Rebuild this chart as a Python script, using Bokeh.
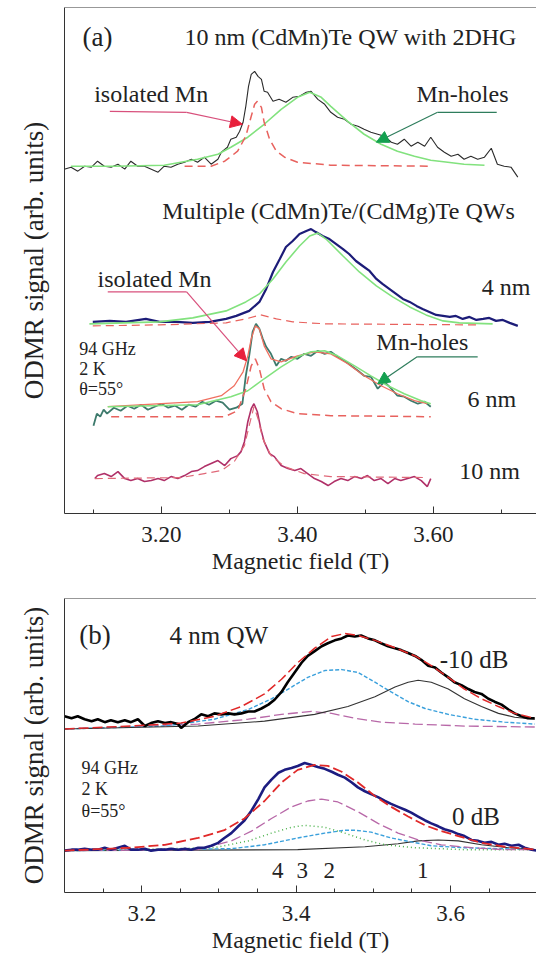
from bokeh.plotting import figure
from bokeh.models import Range1d, Span, Arrow, NormalHead, FixedTicker, NumeralTickFormatter
from bokeh.layouts import column
from bokeh.core.properties import value
from bokeh.embed import file_html
from bokeh.resources import INLINE

FONT = "Liberation Serif"

# ================= panel (a) data (field in T, signal in arb. units) =================
A_2DHG_FIELD = [3.057, 3.067, 3.077, 3.087, 3.097, 3.106, 3.116, 3.126, 3.136, 3.146, 3.155, 3.165, 3.175, 3.185,
                3.195, 3.204, 3.214, 3.224, 3.234, 3.244, 3.253, 3.263, 3.273, 3.283, 3.288, 3.297, 3.302, 3.310,
                3.315, 3.320, 3.324, 3.328, 3.332, 3.337, 3.342, 3.347, 3.351, 3.356, 3.364, 3.373, 3.383, 3.393,
                3.403, 3.413, 3.420, 3.430, 3.440, 3.449, 3.459, 3.469, 3.479, 3.489, 3.498, 3.508, 3.518, 3.528,
                3.538, 3.547, 3.557, 3.567, 3.577, 3.587, 3.596, 3.606, 3.616, 3.626, 3.636, 3.645, 3.655, 3.665,
                3.675, 3.685, 3.694, 3.704, 3.714, 3.724]
A_2DHG_SIGNAL = [345, 347, 343, 348, 347, 353, 348, 347, 350, 345, 353, 348, 348, 345, 342, 348, 347, 350, 352, 355,
                 352, 357, 350, 355, 362, 367, 375, 377, 383, 392, 408, 428, 440, 443, 438, 435, 423, 422, 413, 415,
                 412, 417, 418, 422, 423, 415, 410, 402, 397, 395, 390, 388, 385, 382, 380, 378, 372, 370, 375, 368,
                 372, 368, 377, 367, 362, 358, 360, 355, 358, 355, 357, 366, 350, 348, 347, 337]
A_2DHG_HOLES_FIELD = [3.067, 3.131, 3.204, 3.253, 3.283, 3.302, 3.327, 3.351, 3.376, 3.400, 3.418, 3.435, 3.449,
                      3.474, 3.498, 3.523, 3.547, 3.572, 3.596, 3.621, 3.645, 3.675]
A_2DHG_HOLES_SIGNAL = [348, 348, 349, 355, 360, 367, 377, 390, 405, 417, 422, 417, 408, 393, 380, 370, 363, 358,
                       354, 352, 350, 349]
A_2DHG_MN_FIELD = [3.234, 3.273, 3.293, 3.312, 3.324, 3.332, 3.337, 3.341, 3.347, 3.351, 3.359, 3.369, 3.381, 3.400,
                   3.449, 3.596]
A_2DHG_MN_SIGNAL = [348, 348, 353, 363, 378, 398, 410, 413, 407, 392, 375, 363, 357, 352, 349, 348]

A_4NM_FIELD = [3.099, 3.124, 3.148, 3.177, 3.197, 3.222, 3.246, 3.271, 3.295, 3.310, 3.329, 3.344, 3.354, 3.364,
               3.374, 3.383, 3.393, 3.403, 3.413, 3.420, 3.427, 3.437, 3.447, 3.457, 3.467, 3.476, 3.486, 3.496,
               3.506, 3.516, 3.525, 3.535, 3.545, 3.555, 3.565, 3.575, 3.584, 3.594, 3.604, 3.614, 3.624, 3.633,
               3.643, 3.653, 3.663, 3.673, 3.682, 3.692, 3.702, 3.712, 3.724]
A_4NM_SIGNAL = [192, 193, 192, 195, 192, 192, 191, 192, 195, 198, 203, 212, 225, 242, 255, 267, 273, 280, 283, 285,
                282, 278, 275, 270, 265, 260, 253, 248, 243, 235, 230, 225, 220, 215, 212, 208, 205, 202, 199, 198,
                197, 198, 195, 197, 194, 195, 196, 193, 194, 191, 188]
A_4NM_HOLES_FIELD = [3.094, 3.197, 3.246, 3.295, 3.324, 3.344, 3.364, 3.383, 3.403, 3.418, 3.430, 3.442, 3.467,
                     3.491, 3.516, 3.540, 3.565, 3.589, 3.614, 3.638, 3.687]
A_4NM_HOLES_SIGNAL = [190, 192, 196, 203, 212, 220, 235, 252, 268, 278, 281, 275, 258, 242, 228, 217, 207, 199, 193,
                      191, 190]
A_4NM_MN_FIELD = [3.099, 3.197, 3.295, 3.324, 3.346, 3.369, 3.393, 3.442, 3.663]
A_4NM_MN_SIGNAL = [188, 189, 191, 195, 199, 195, 192, 190, 189]

A_6NM_FIELD = [3.100, 3.105, 3.110, 3.115, 3.120, 3.130, 3.140, 3.150, 3.160, 3.170, 3.180, 3.190, 3.200, 3.210,
               3.220, 3.230, 3.240, 3.250, 3.260, 3.270, 3.280, 3.290, 3.300, 3.310, 3.319, 3.324, 3.329, 3.334,
               3.339, 3.344, 3.349, 3.354, 3.361, 3.369, 3.376, 3.383, 3.391, 3.400, 3.410, 3.420, 3.430, 3.440,
               3.449, 3.459, 3.469, 3.479, 3.489, 3.498, 3.508, 3.518, 3.528, 3.538, 3.547, 3.557, 3.567, 3.577,
               3.587, 3.596]
A_6NM_SIGNAL = [88, 100, 97, 104, 100, 106, 103, 108, 105, 109, 104, 107, 110, 106, 108, 104, 109, 107, 112, 109,
                113, 111, 104, 106, 110, 138, 158, 182, 190, 185, 175, 167, 160, 148, 155, 153, 157, 155, 160, 158,
                163, 160, 162, 157, 153, 148, 143, 138, 137, 125, 132, 125, 118, 117, 113, 110, 112, 107]
A_6NM_TOTAL_FIELD = [3.121, 3.253, 3.288, 3.307, 3.320, 3.327, 3.332, 3.338, 3.344, 3.351, 3.361, 3.376, 3.400,
                     3.425, 3.449, 3.474, 3.498, 3.523, 3.547, 3.572, 3.591]
A_6NM_TOTAL_SIGNAL = [107, 112, 118, 128, 142, 158, 175, 188, 185, 168, 155, 152, 158, 162, 160, 150, 138, 128, 120,
                      113, 110]
A_6NM_HOLES_FIELD = [3.121, 3.253, 3.302, 3.327, 3.351, 3.376, 3.400, 3.420, 3.440, 3.459, 3.484, 3.508, 3.533,
                     3.557, 3.582, 3.596]
A_6NM_HOLES_SIGNAL = [107, 109, 117, 123, 135, 147, 157, 162, 163, 158, 148, 138, 128, 120, 113, 110]
A_6NM_MN_FIELD = [3.126, 3.293, 3.312, 3.324, 3.332, 3.338, 3.344, 3.351, 3.361, 3.376, 3.400, 3.449, 3.596]
A_6NM_MN_SIGNAL = [97, 97, 103, 125, 148, 155, 145, 125, 112, 105, 100, 98, 97]

A_10NM_FIELD = [3.102, 3.106, 3.116, 3.126, 3.136, 3.146, 3.155, 3.165, 3.175, 3.185, 3.195, 3.204, 3.214, 3.224,
                3.234, 3.244, 3.253, 3.263, 3.273, 3.283, 3.293, 3.302, 3.312, 3.317, 3.322, 3.327, 3.332, 3.336,
                3.341, 3.346, 3.351, 3.359, 3.366, 3.376, 3.386, 3.396, 3.405, 3.415, 3.425, 3.435, 3.445, 3.454,
                3.464, 3.474, 3.484, 3.494, 3.503, 3.513, 3.523, 3.533, 3.543, 3.552, 3.562, 3.572, 3.582, 3.591,
                3.596]
A_10NM_SIGNAL = [35, 38, 40, 37, 42, 35, 33, 35, 32, 33, 35, 33, 37, 35, 38, 42, 43, 47, 50, 53, 48, 55, 58, 62, 72,
                 92, 105, 110, 102, 85, 72, 60, 57, 48, 45, 43, 45, 40, 35, 32, 28, 32, 35, 33, 37, 35, 38, 33, 35,
                 30, 35, 33, 35, 37, 33, 27, 35]
A_10NM_FIT_FIELD = [3.102, 3.229, 3.263, 3.288, 3.307, 3.322, 3.329, 3.336, 3.342, 3.349, 3.361, 3.381, 3.410,
                    3.449, 3.591]
A_10NM_FIT_SIGNAL = [35, 36, 40, 43, 52, 68, 88, 107, 95, 75, 58, 47, 40, 37, 36]

# ================= panel (b) data =================
B_M10_FIELD = [3.100, 3.109, 3.117, 3.126, 3.135, 3.143, 3.152, 3.160, 3.169, 3.178, 3.186, 3.195, 3.204, 3.212,
               3.221, 3.230, 3.238, 3.247, 3.251, 3.260, 3.268, 3.277, 3.286, 3.294, 3.303, 3.312, 3.320, 3.329,
               3.338, 3.346, 3.355, 3.364, 3.372, 3.381, 3.389, 3.398, 3.407, 3.415, 3.424, 3.433, 3.441, 3.450,
               3.459, 3.467, 3.476, 3.484, 3.493, 3.502, 3.510, 3.519, 3.528, 3.536, 3.545, 3.554, 3.562, 3.571,
               3.580, 3.588, 3.597, 3.605, 3.614, 3.623, 3.631, 3.640, 3.649, 3.657, 3.666, 3.675, 3.683, 3.692,
               3.700, 3.709]
B_M10_SIGNAL = [181, 179, 181, 178, 176, 178, 175, 177, 175, 177, 175, 178, 171, 174, 176, 174, 175, 173, 169, 175,
                178, 183, 181, 184, 183, 184, 183, 184, 186, 186, 189, 193, 198, 206, 216, 226, 236, 243, 248, 253,
                256, 259, 261, 264, 263, 264, 261, 259, 256, 253, 251, 249, 246, 243, 239, 233, 231, 226, 221, 216,
                213, 209, 206, 204, 199, 196, 193, 188, 184, 181, 179, 179]
B_M10_TOTAL_FIELD = [3.100, 3.186, 3.251, 3.294, 3.329, 3.359, 3.381, 3.402, 3.424, 3.446, 3.463, 3.480, 3.502,
                     3.523, 3.554, 3.575, 3.597, 3.618, 3.640, 3.662, 3.683, 3.709]
B_M10_TOTAL_SIGNAL = [168, 171, 174, 181, 191, 204, 219, 236, 251, 263, 266, 264, 259, 253, 243, 233, 221, 209, 199,
                      191, 184, 179]
B_M10_C1_FIELD = [3.100, 3.273, 3.359, 3.424, 3.467, 3.502, 3.528, 3.545, 3.558, 3.575, 3.597, 3.618, 3.640, 3.662,
                  3.683, 3.709]
B_M10_C1_SIGNAL = [168, 171, 176, 183, 191, 201, 211, 216, 218, 216, 209, 199, 191, 184, 180, 178]
B_M10_C2_FIELD = [3.100, 3.230, 3.294, 3.338, 3.368, 3.394, 3.415, 3.437, 3.459, 3.480, 3.502, 3.523, 3.545, 3.567,
                  3.597, 3.631, 3.670, 3.709]
B_M10_C2_SIGNAL = [168, 171, 178, 188, 199, 211, 221, 228, 229, 226, 216, 206, 196, 189, 183, 178, 175, 173]
B_M10_C3_FIELD = [3.100, 3.273, 3.338, 3.381, 3.420, 3.446, 3.476, 3.510, 3.554, 3.618, 3.709]
B_M10_C3_SIGNAL = [168, 173, 178, 183, 186, 184, 179, 175, 173, 171, 170]

B_0_FIELD = [3.100, 3.109, 3.117, 3.126, 3.135, 3.143, 3.152, 3.160, 3.169, 3.178, 3.186, 3.195, 3.204, 3.212,
             3.221, 3.230, 3.238, 3.247, 3.256, 3.264, 3.273, 3.281, 3.290, 3.299, 3.307, 3.316, 3.325, 3.333,
             3.342, 3.351, 3.359, 3.368, 3.377, 3.385, 3.394, 3.402, 3.411, 3.420, 3.428, 3.437, 3.446, 3.454,
             3.463, 3.472, 3.480, 3.489, 3.497, 3.506, 3.515, 3.523, 3.532, 3.541, 3.549, 3.558, 3.567, 3.575,
             3.584, 3.592, 3.601, 3.610, 3.618, 3.627, 3.636, 3.644, 3.653, 3.662, 3.670, 3.679, 3.688, 3.696,
             3.705, 3.712]
B_0_SIGNAL = [43, 44, 44, 45, 44, 44, 46, 44, 46, 48, 44, 44, 45, 43, 44, 44, 45, 44, 45, 44, 46, 46, 48, 51, 56,
              61, 68, 74, 84, 96, 108, 116, 123, 126, 128, 130, 133, 131, 129, 127, 124, 121, 118, 113, 108, 104,
              101, 98, 94, 91, 88, 85, 82, 78, 74, 71, 68, 65, 63, 60, 58, 54, 53, 51, 52, 49, 50, 48, 49, 46, 44,
              43]
B_0_TOTAL_FIELD = [3.100, 3.186, 3.230, 3.273, 3.307, 3.333, 3.359, 3.381, 3.402, 3.424, 3.441, 3.459, 3.480, 3.502,
                   3.523, 3.545, 3.567, 3.588, 3.610, 3.640, 3.670, 3.712]
B_0_TOTAL_SIGNAL = [43, 46, 49, 56, 64, 76, 94, 113, 126, 131, 130, 124, 113, 99, 88, 78, 69, 63, 58, 51, 47, 44]
B_0_C1_FIELD = [3.100, 3.402, 3.489, 3.532, 3.558, 3.584, 3.610, 3.640, 3.675, 3.712]
B_0_C1_SIGNAL = [43, 44, 47, 50, 53, 54, 53, 49, 46, 44]
B_0_C2_FIELD = [3.100, 3.316, 3.359, 3.402, 3.437, 3.463, 3.476, 3.497, 3.523, 3.549, 3.575, 3.618, 3.712]
B_0_C2_SIGNAL = [43, 45, 49, 56, 61, 64, 64, 62, 56, 52, 48, 46, 44]
B_0_C3_FIELD = [3.100, 3.273, 3.316, 3.342, 3.368, 3.394, 3.415, 3.433, 3.454, 3.480, 3.506, 3.532, 3.558, 3.588,
                3.627, 3.670, 3.712]
B_0_C3_SIGNAL = [43, 44, 53, 63, 76, 88, 94, 96, 93, 83, 71, 61, 54, 49, 46, 44, 44]
B_0_C4_FIELD = [3.100, 3.294, 3.338, 3.368, 3.394, 3.411, 3.437, 3.463, 3.489, 3.515, 3.554, 3.618, 3.712]
B_0_C4_SIGNAL = [43, 46, 53, 61, 67, 69, 67, 61, 54, 49, 46, 44, 44]

# ================= ticks and annotations =================
A_MAJOR_TICKS = [3.20, 3.40, 3.60]
A_MINOR_TICKS = [3.10, 3.30, 3.50, 3.70]
B_MAJOR_TICKS = [3.2, 3.4, 3.6]
B_MINOR_TICKS = [3.15, 3.25, 3.30, 3.35, 3.45, 3.50, 3.55, 3.65]

PEAK_LABELS = ["4", "3", "2", "1"]
PEAK_FIELDS = [3.376, 3.408, 3.443, 3.564]

# arrows: (start_field, start_signal, knee_field, knee_signal, tip_field, tip_signal)
A_ARROW_ISO_TOP = (3.124, 403, 3.237, 402, 3.319, 390)
A_ARROW_HOLES_TOP = (3.693, 402, 3.606, 402, 3.516, 372)
A_ARROW_ISO_MID = (3.121, 222, 3.237, 222, 3.325, 153)
A_ARROW_HOLES_MID = (3.665, 157, 3.576, 157, 3.518, 130)

TXT = "#222222"
RED_DASH = "#e8625e"
GREEN_FIT = "#82e27e"


def base_fig(height, xr, yr, top, bottom, major, minor, fmt):
    p = figure(width=536, height=height, output_backend="svg", toolbar_location=None,
               x_range=Range1d(*xr), y_range=Range1d(*yr),
               min_border_left=64, min_border_right=0, min_border_top=top, min_border_bottom=bottom)
    p.outline_line_color = None
    p.grid.visible = False
    p.background_fill_color = "white"
    p.border_fill_color = "white"
    xa = p.xaxis[0]
    xa.ticker = FixedTicker(ticks=major, minor_ticks=minor)
    xa.formatter = NumeralTickFormatter(format=fmt)
    xa.major_tick_in = 7
    xa.major_tick_out = 0
    xa.minor_tick_in = 4
    xa.minor_tick_out = 0
    xa.axis_line_color = "#333333"
    xa.major_tick_line_color = "#333333"
    xa.minor_tick_line_color = "#333333"
    xa.major_label_text_font = FONT
    xa.major_label_text_font_size = "23px"
    xa.major_label_text_color = TXT
    xa.major_label_standoff = 13
    xa.axis_label = "Magnetic field (T)"
    xa.axis_label_text_font = FONT
    xa.axis_label_text_font_size = "24px"
    xa.axis_label_text_font_style = "normal"
    xa.axis_label_text_color = TXT
    xa.axis_label_standoff = 3
    ya = p.yaxis[0]
    ya.ticker = FixedTicker(ticks=[])
    ya.axis_line_color = "#333333"
    ya.major_tick_line_color = None
    ya.minor_tick_line_color = None
    ya.axis_label = "ODMR signal (arb. units)"
    ya.axis_label_text_font = FONT
    ya.axis_label_text_font_size = "27px"
    ya.axis_label_text_font_style = "normal"
    ya.axis_label_text_color = TXT
    ya.axis_label_standoff = 16
    p.add_layout(Span(location=yr[1], dimension="width", line_color="#333333", line_width=1))
    return p


def txt(p, xs, ys, texts, size, align="left"):
    p.text(x=xs, y=ys, text=texts, text_font=value(FONT), text_font_size=size,
           text_color=TXT, text_align=align, text_baseline="middle")


def bent_arrow(p, spec, line_color, head_color):
    x0, y0, x1, y1, x2, y2 = spec
    p.line([x0, x1], [y0, y1], line_color=line_color, line_width=1.2)
    p.add_layout(Arrow(end=NormalHead(size=12, fill_color=head_color, line_color=head_color),
                       x_start=x1, y_start=y1, x_end=x2, y_end=y2,
                       line_color=line_color, line_width=1.2))


# ---------------- panel (a) ----------------
pa = base_fig(580, (3.0574, 3.7515), (0, 507), 7, 67, A_MAJOR_TICKS, A_MINOR_TICKS, "0.00")

pa.line(A_2DHG_FIELD, A_2DHG_SIGNAL, line_color="#2b2b2b", line_width=1.1)
pa.line(A_2DHG_HOLES_FIELD, A_2DHG_HOLES_SIGNAL, line_color=GREEN_FIT, line_width=1.6)
pa.line(A_2DHG_MN_FIELD, A_2DHG_MN_SIGNAL, line_color=RED_DASH, line_width=1.5, line_dash="8 5")

pa.line(A_4NM_FIELD, A_4NM_SIGNAL, line_color="#1c1c78", line_width=2.2)
pa.line(A_4NM_HOLES_FIELD, A_4NM_HOLES_SIGNAL, line_color=GREEN_FIT, line_width=1.6)
pa.line(A_4NM_MN_FIELD, A_4NM_MN_SIGNAL, line_color=RED_DASH, line_width=1.2, line_dash="8 5")

pa.line(A_6NM_FIELD, A_6NM_SIGNAL, line_color="#3d7a6c", line_width=1.8)
pa.line(A_6NM_TOTAL_FIELD, A_6NM_TOTAL_SIGNAL, line_color="#f07060", line_width=1.3)
pa.line(A_6NM_HOLES_FIELD, A_6NM_HOLES_SIGNAL, line_color=GREEN_FIT, line_width=1.5)
pa.line(A_6NM_MN_FIELD, A_6NM_MN_SIGNAL, line_color=RED_DASH, line_width=1.5, line_dash="8 5")

pa.line(A_10NM_FIELD, A_10NM_SIGNAL, line_color="#b03068", line_width=1.6)
pa.line(A_10NM_FIT_FIELD, A_10NM_FIT_SIGNAL, line_color="#e06878", line_width=1.2, line_dash="8 5")

bent_arrow(pa, A_ARROW_ISO_TOP, "#d8507c", "#e8203c")
bent_arrow(pa, A_ARROW_HOLES_TOP, "#2e7d5c", "#14a050")
bent_arrow(pa, A_ARROW_ISO_MID, "#d8507c", "#e8203c")
bent_arrow(pa, A_ARROW_HOLES_MID, "#2e7d5c", "#14a050")

txt(pa, [3.084], [477], ["(a)"], "27px")
txt(pa, [3.234], [477], ["10 nm (CdMn)Te QW with 2DHG"], "24px")
txt(pa, [3.101, 3.575], [420, 420], ["isolated Mn", "Mn-holes"], "24px")
txt(pa, [3.201], [303], ["Multiple  (CdMn)Te/(CdMg)Te QWs"], "24px")
txt(pa, [3.106, 3.516], [235, 172], ["isolated Mn", "Mn-holes"], "24px")
txt(pa, [3.671, 3.650, 3.638], [227, 115, 43], ["4 nm", "6 nm", "10 nm"], "24px")
txt(pa, [3.079, 3.079, 3.079], [165, 145, 125], ["94 GHz", "2 K", "θ=55°"], "18px")

# ---------------- panel (b) ----------------
pb = base_fig(375, (3.0999, 3.7113), (0, 302), 18, 62, B_MAJOR_TICKS, B_MINOR_TICKS, "0.0")

pb.line(B_M10_C3_FIELD, B_M10_C3_SIGNAL, line_color="#b868a8", line_width=1.3, line_dash="10 4")
pb.line(B_M10_C2_FIELD, B_M10_C2_SIGNAL, line_color="#3aa0dc", line_width=1.4, line_dash="4 2")
pb.line(B_M10_C1_FIELD, B_M10_C1_SIGNAL, line_color="#333333", line_width=1.1)
pb.line(B_M10_FIELD, B_M10_SIGNAL, line_color="#000000", line_width=2.6)
pb.line(B_M10_TOTAL_FIELD, B_M10_TOTAL_SIGNAL, line_color="#e02828", line_width=1.5, line_dash="10 4")

pb.line(B_0_C1_FIELD, B_0_C1_SIGNAL, line_color="#333333", line_width=1.1)
pb.line(B_0_C2_FIELD, B_0_C2_SIGNAL, line_color="#3aa0dc", line_width=1.4, line_dash="4 2")
pb.line(B_0_C4_FIELD, B_0_C4_SIGNAL, line_color="#48b048", line_width=1.5, line_dash="1 3")
pb.line(B_0_C3_FIELD, B_0_C3_SIGNAL, line_color="#b868a8", line_width=1.3, line_dash="10 4")
pb.line(B_0_FIELD, B_0_SIGNAL, line_color="#1c1c80", line_width=2.6)
pb.line(B_0_TOTAL_FIELD, B_0_TOTAL_SIGNAL, line_color="#e02828", line_width=1.8, line_dash="10 4")

txt(pb, [3.119], [264], ["(b)"], "27px")
txt(pb, [3.236], [264], ["4 nm QW"], "25px")
txt(pb, [3.586, 3.602], [239, 78], ["-10 dB", "0 dB"], "25px")
txt(pb, [3.122, 3.122, 3.122], [128, 106, 84], ["94 GHz", "2 K", "θ=55°"], "18px")
txt(pb, PEAK_FIELDS, [23] * len(PEAK_FIELDS), PEAK_LABELS, "23px", align="center")

layout = column(pa, pb, spacing=0)
open("out.html", "w").write(file_html(layout, INLINE))
